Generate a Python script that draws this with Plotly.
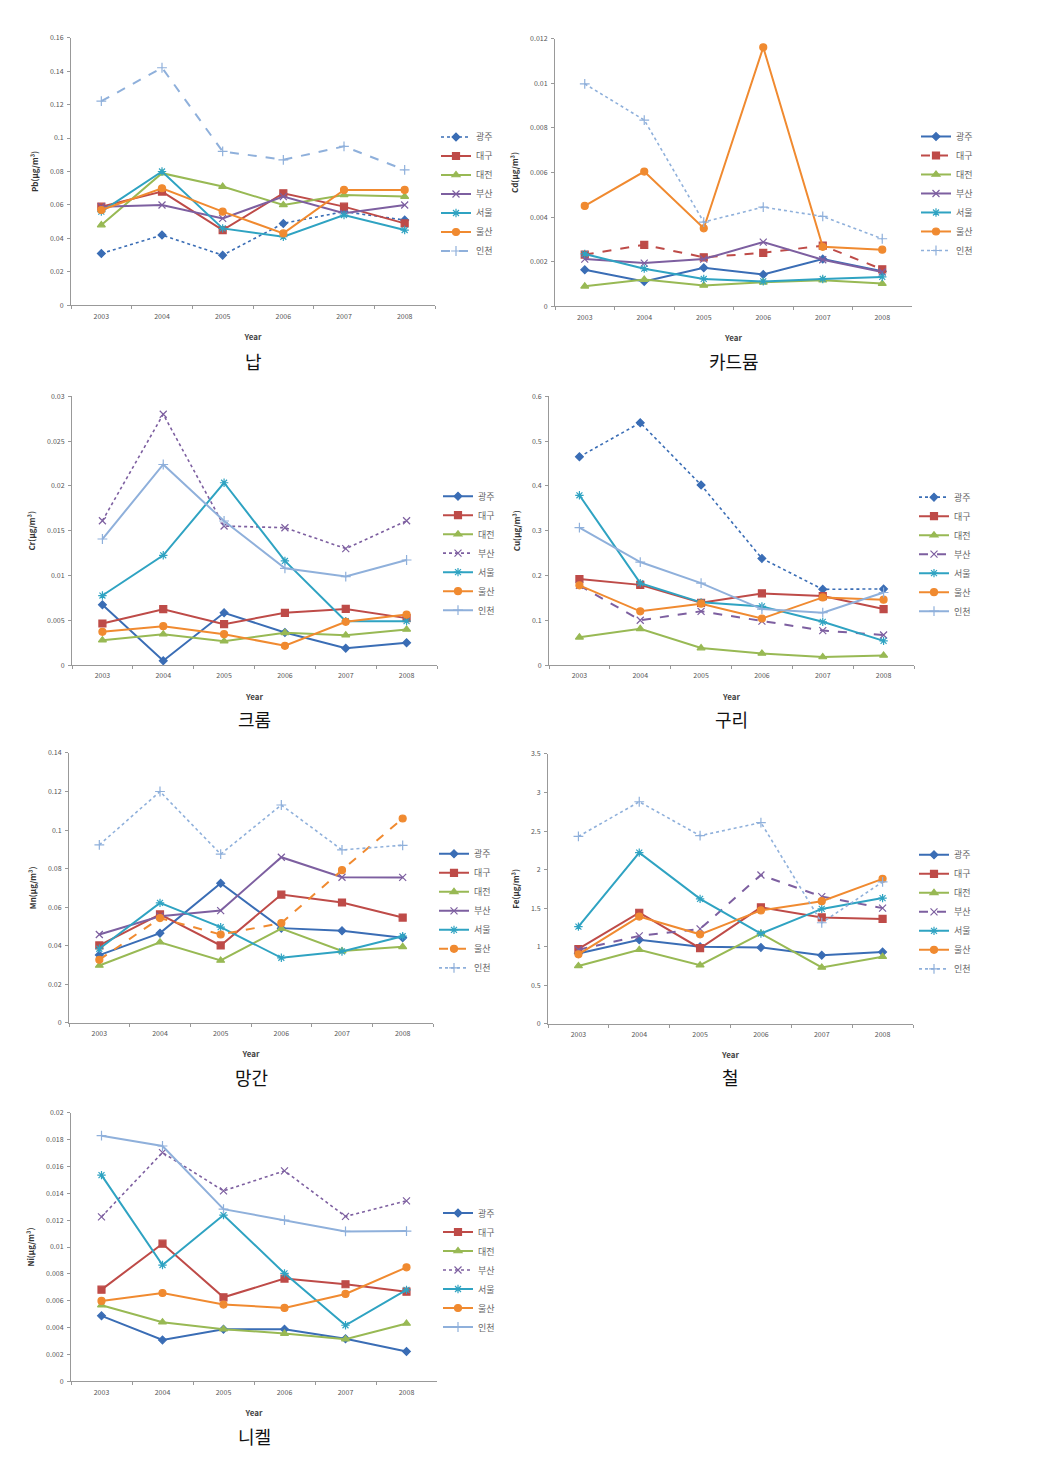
import plotly.graph_objects as go

years = ["2003", "2004", "2005", "2006", "2007", "2008"]
cities = ["광주", "대구", "대전", "부산", "서울", "울산", "인천"]

pb = [
    [0.031, 0.042, 0.030, 0.049, 0.056, 0.051],
    [0.059, 0.068, 0.045, 0.067, 0.059, 0.049],
    [0.048, 0.079, 0.071, 0.060, 0.066, 0.065],
    [0.059, 0.060, 0.052, 0.065, 0.055, 0.060],
    [0.056, 0.080, 0.046, 0.041, 0.054, 0.045],
    [0.057, 0.070, 0.056, 0.043, 0.069, 0.069],
    [0.122, 0.142, 0.092, 0.087, 0.095, 0.081],
]
cd = [
    [0.00164, 0.00112, 0.00173, 0.00143, 0.00212, 0.00157],
    [0.00232, 0.00276, 0.00220, 0.00240, 0.00272, 0.00166],
    [0.00090, 0.00120, 0.00094, 0.00108, 0.00117, 0.00102],
    [0.00212, 0.00194, 0.00212, 0.00288, 0.00209, 0.00154],
    [0.00235, 0.00169, 0.00123, 0.00112, 0.00123, 0.00132],
    [0.00450, 0.00604, 0.00350, 0.01161, 0.00267, 0.00254],
    [0.00997, 0.00835, 0.00378, 0.00445, 0.00403, 0.00303],
]
cr = [
    [0.00672, 0.00048, 0.00583, 0.00364, 0.00189, 0.00249],
    [0.00464, 0.00624, 0.00457, 0.00583, 0.00627, 0.00524],
    [0.00278, 0.00345, 0.00267, 0.00360, 0.00334, 0.00397],
    [0.01611, 0.02800, 0.01552, 0.01533, 0.01300, 0.01611],
    [0.00776, 0.01225, 0.02035, 0.01162, 0.00490, 0.00490],
    [0.00371, 0.00434, 0.00345, 0.00215, 0.00483, 0.00564],
    [0.01407, 0.02239, 0.01608, 0.01080, 0.00988, 0.01173],
]
cu = [
    [0.465, 0.541, 0.402, 0.238, 0.169, 0.170],
    [0.192, 0.179, 0.139, 0.160, 0.154, 0.125],
    [0.062, 0.081, 0.038, 0.026, 0.018, 0.0215],
    [0.178, 0.100, 0.120, 0.098, 0.077, 0.067],
    [0.379, 0.183, 0.140, 0.131, 0.0965, 0.054],
    [0.178, 0.120, 0.137, 0.104, 0.151, 0.146],
    [0.307, 0.230, 0.183, 0.125, 0.117, 0.162],
]
mn = [
    [0.0351, 0.0465, 0.0724, 0.0491, 0.0477, 0.0441],
    [0.0401, 0.0562, 0.0401, 0.0665, 0.0624, 0.0546],
    [0.0297, 0.0418, 0.0323, 0.0489, 0.0372, 0.0394],
    [0.0458, 0.0553, 0.0582, 0.0859, 0.0755, 0.0754],
    [0.0384, 0.0622, 0.0496, 0.0337, 0.0370, 0.0449],
    [0.0327, 0.0543, 0.0458, 0.0517, 0.0792, 0.1060],
    [0.0923, 0.1200, 0.0875, 0.1130, 0.0897, 0.0921],
]
fe = [
    [0.91, 1.09, 1.00, 0.99, 0.89, 0.93],
    [0.97, 1.44, 0.98, 1.51, 1.38, 1.36],
    [0.75, 0.96, 0.76, 1.17, 0.73, 0.87],
    [0.96, 1.14, 1.23, 1.93, 1.65, 1.50],
    [1.26, 2.22, 1.62, 1.17, 1.49, 1.63],
    [0.90, 1.39, 1.16, 1.47, 1.59, 1.88],
    [2.43, 2.88, 2.44, 2.61, 1.31, 1.84],
]
ni = [
    [0.00488, 0.00309, 0.00389, 0.00389, 0.00317, 0.00223],
    [0.00683, 0.01025, 0.00626, 0.00765, 0.00723, 0.00668],
    [0.00567, 0.00441, 0.00389, 0.00356, 0.00314, 0.00431],
    [0.01225, 0.01703, 0.01418, 0.01567, 0.01228, 0.01344],
    [0.01535, 0.00866, 0.01238, 0.00804, 0.00418, 0.00681],
    [0.00599, 0.00658, 0.00572, 0.00547, 0.00651, 0.00849],
    [0.01829, 0.01752, 0.01282, 0.01200, 0.01116, 0.01119],
]

panel_titles = ["납", "카드뮴", "크롬", "구리", "망간", "철", "니켈"]
y_titles = ["Pb(μg/m³)", "Cd(μg/m³)", "Cr(μg/m³)", "Cu(μg/m³)",
            "Mn(μg/m³)", "Fe(μg/m³)", "Ni(μg/m³)"]
y_max = [0.16, 0.012, 0.03, 0.6, 0.14, 3.5, 0.02]
y_step = [0.02, 0.002, 0.005, 0.1, 0.02, 0.5, 0.002]
datasets = [pb, cd, cr, cu, mn, fe, ni]

# styles
colors = ["#3A6DB5", "#BE4B48", "#98B954", "#7D5FA0", "#2FA3C2", "#F08A30", "#8FB0DB"]
symbols = ["diamond", "square", "triangle-up", "x-thin-open", "asterisk-open",
           "circle", "cross-thin-open"]
msizes = [6, 7, 7, 7, 7, 7, 7]
dashes = [
    ["dot", "solid", "solid", "solid", "solid", "solid", "dash"],
    ["solid", "dash", "solid", "solid", "solid", "solid", "dot"],
    ["solid", "solid", "solid", "dot", "solid", "solid", "solid"],
    ["dot", "solid", "solid", "dash", "solid", "solid", "solid"],
    ["solid", "solid", "solid", "solid", "solid", "dash", "dot"],
    ["solid", "solid", "solid", "dash", "solid", "solid", "dot"],
    ["solid", "solid", "solid", "dot", "solid", "solid", "solid"],
]

W, H = 1050, 1460


def vy(y):
    # slight vertical correction for the rendered page
    return 730 + (y - 730) * 1.006


# plot area boxes in pixels: left, right, top, bottom
boxes = [
    (71, 435, 36, 304),
    (555, 912, 37, 305),
    (72, 437, 395, 664),
    (549, 914, 395, 664),
    (69, 433, 752, 1022),
    (548, 913, 753, 1023),
    (71, 437, 1112, 1381),
]
legend_pos = [(436, 192.5), (916, 192), (438, 552), (914, 553), (434, 910), (914, 911), (438, 1269.5)]
title_y = [360, 360, 718, 718, 1076, 1076, 1436]

FONT = "Noto Sans CJK KR, Noto Sans, sans-serif"
fig = go.Figure()
layout = dict(
    width=W, height=H, margin=dict(l=0, r=0, t=0, b=0),
    paper_bgcolor="white", plot_bgcolor="white",
    font=dict(family=FONT, color="#444"),
    annotations=[],
)

for p, data in enumerate(datasets):
    k = "" if p == 0 else str(p + 1)
    leg = "legend" if p == 0 else "legend%d" % (p + 1)
    for c, city in enumerate(cities):
        d = dashes[p][c]
        fig.add_trace(go.Scatter(
            x=years, y=data[c], name=city, mode="lines+markers",
            xaxis="x" + k, yaxis="y" + k, legend=leg,
            line=dict(color=colors[c], width=1.6 if d == "dot" else 2, dash=d),
            marker=dict(symbol=symbols[c], size=msizes[c], color=colors[c],
                        line=dict(color=colors[c], width=1.2)),
        ))
    l, r, t, b = boxes[p]
    layout["xaxis" + k] = dict(
        domain=[l / W, r / W], anchor="y" + k, type="category",
        range=[-0.5, 5.5], tickson="boundaries", ticks="outside", ticklen=3,
        tickcolor="#999", showline=True, linecolor="#999", linewidth=1,
        showgrid=False, zeroline=False, tickfont=dict(size=7, color="#555"),
        ticklabelstandoff=4,
        title=dict(text="<b>Year</b>", font=dict(size=8, color="#444"), standoff=14),
    )
    layout["yaxis" + k] = dict(
        domain=[1 - vy(b) / H, 1 - vy(t) / H], anchor="x" + k,
        range=[0, y_max[p]], dtick=y_step[p], tick0=0,
        ticks="outside", ticklen=3, tickcolor="#999",
        showline=True, linecolor="#999", linewidth=1,
        showgrid=False, zeroline=False, tickfont=dict(size=7, color="#555"),
        ticklabelstandoff=2,
        title=dict(text="<b>%s</b>" % y_titles[p], font=dict(size=8, color="#333"), standoff=10),
    )
    lx, ly = legend_pos[p]
    layout[leg] = dict(
        x=lx / W, y=1 - vy(ly) / H, xanchor="left", yanchor="middle",
        font=dict(size=9, color="#666", family=FONT),
        bgcolor="rgba(0,0,0,0)", itemwidth=30, tracegroupgap=0,
    )
    layout["annotations"].append(dict(
        text=panel_titles[p], x=(l + r) / 2 / W, y=1 - vy(title_y[p]) / H,
        xref="paper", yref="paper", xanchor="center", yanchor="middle",
        showarrow=False, font=dict(size=18, color="#111", family=FONT),
    ))

fig.update_layout(**layout)
fig.write_html(
    "out.html",
    config={"displayModeBar": False},
    post_script="document.body.style.margin='0';document.body.style.overflow='hidden';",
)
